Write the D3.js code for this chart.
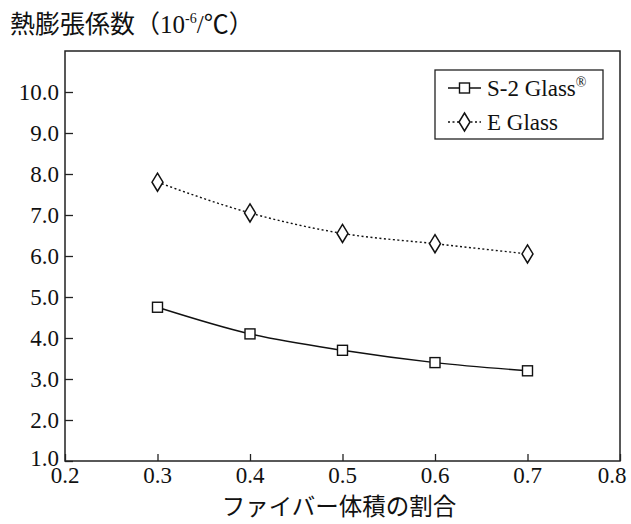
<!DOCTYPE html>
<html>
<head>
<meta charset="utf-8">
<script src="https://cdn.jsdelivr.net/npm/d3@7"></script>
<style>
  html, body { margin: 0; padding: 0; background: #fff; }
  svg { display: block; }
</style>
</head>
<body>
<svg id="chart" width="631" height="524"></svg>
<script>
// Fiber volume fraction (x) and thermal expansion coefficient (y, 10^-6/°C)
const fiberFraction = [0.3, 0.4, 0.5, 0.6, 0.7];
const s2Glass = [4.75, 4.1, 3.7, 3.4, 3.2];
const eGlass = [7.8, 7.05, 6.55, 6.3, 6.05];
const xTicks = [0.2, 0.3, 0.4, 0.5, 0.6, 0.7, 0.8];
const yTicks = [1, 2, 3, 4, 5, 6, 7, 8, 9, 10];

const svg = d3.select("#chart");
const serif = "'Liberation Serif', 'Times New Roman', serif";
const jp = "'Noto Sans CJK JP', sans-serif";
const W = 631;

const plot = { left: 65, right: 620, top: 51, bottom: 461 };
const x = d3.scaleLinear().domain([0.2, 0.8]).range([plot.left, plot.right]);
const y = d3.scaleLinear().domain([1, 11]).range([plot.bottom, plot.top]);

// Frame
svg.append("rect")
  .attr("x", plot.left).attr("y", plot.top)
  .attr("width", plot.right - plot.left).attr("height", plot.bottom - plot.top)
  .attr("fill", "none").attr("stroke", "#222").attr("stroke-width", 1.5);

// Y axis (inward ticks)
const yAxis = d3.axisRight(y).tickValues(yTicks).tickSize(8).tickFormat("");
svg.append("g").attr("transform", `translate(${plot.left},0)`).call(yAxis)
  .call(g => g.select(".domain").remove())
  .call(g => g.selectAll("line").attr("stroke", "#222").attr("stroke-width", 1.3));
svg.append("g").selectAll("text").data(yTicks).join("text")
  .attr("x", plot.left - 6).attr("y", d => y(d) - (d === 1 ? 3 : 0)).attr("dy", "0.35em")
  .attr("text-anchor", "end")
  .attr("font-family", serif).attr("font-size", 23).attr("fill", "#111")
  .text(d => d3.format(".1f")(d));

// X axis (inward ticks)
const xAxis = d3.axisTop(x).tickValues(xTicks).tickSize(7).tickFormat("");
svg.append("g").attr("transform", `translate(0,${plot.bottom})`).call(xAxis)
  .call(g => g.select(".domain").remove())
  .call(g => g.selectAll("line").attr("stroke", "#222").attr("stroke-width", 1.3));
svg.append("g").selectAll("text").data(xTicks).join("text")
  .attr("x", d => Math.min(x(d), W - 19)).attr("y", plot.bottom + 22)
  .attr("text-anchor", "middle")
  .attr("font-family", serif).attr("font-size", 23).attr("fill", "#111")
  .text(d => d3.format(".1f")(d));

// Axis titles
svg.append("text")
  .attr("x", 339).attr("y", 515).attr("text-anchor", "middle")
  .attr("font-family", jp).attr("font-size", 23.5).attr("fill", "#111")
  .text("ファイバー体積の割合");

const title = svg.append("text")
  .attr("x", 10).attr("y", 33)
  .attr("font-family", jp).attr("font-size", 25).attr("fill", "#111");
title.append("tspan").text("熱膨張係数（");
title.append("tspan").attr("font-family", serif).text("10");
title.append("tspan").attr("font-family", serif).attr("font-size", 14).attr("dy", -10).text("-6");
title.append("tspan").attr("font-family", serif).attr("dy", 10).text("/");
title.append("tspan").text("℃）");

// Series lines
const line = d3.line()
  .x((d, i) => x(fiberFraction[i]))
  .y(d => y(d))
  .curve(d3.curveMonotoneX);

svg.append("path").datum(s2Glass)
  .attr("d", line).attr("fill", "none")
  .attr("stroke", "#111").attr("stroke-width", 1.4);

svg.append("path").datum(eGlass)
  .attr("d", line).attr("fill", "none")
  .attr("stroke", "#111").attr("stroke-width", 1.4)
  .attr("stroke-dasharray", "2,2.5");

// Markers
function square(g, cx, cy) {
  g.append("rect").attr("x", cx - 5).attr("y", cy - 5)
    .attr("width", 10).attr("height", 10)
    .attr("fill", "#fff").attr("stroke", "#111").attr("stroke-width", 1.4);
}
function diamond(g, cx, cy) {
  g.append("path")
    .attr("d", `M${cx},${cy - 9}L${cx + 5.5},${cy}L${cx},${cy + 9}L${cx - 5.5},${cy}Z`)
    .attr("fill", "#fff").attr("stroke", "#111").attr("stroke-width", 1.5);
}
const marks = svg.append("g");
s2Glass.forEach((v, i) => square(marks, x(fiberFraction[i]), y(v)));
eGlass.forEach((v, i) => diamond(marks, x(fiberFraction[i]), y(v)));

// Legend
const lg = svg.append("g");
lg.append("rect").attr("x", 435).attr("y", 70).attr("width", 168).attr("height", 69)
  .attr("fill", "#fff").attr("stroke", "#222").attr("stroke-width", 1.3);
lg.append("line").attr("x1", 448).attr("x2", 481).attr("y1", 88).attr("y2", 88)
  .attr("stroke", "#111").attr("stroke-width", 1.4);
square(lg, 464.5, 88);
lg.append("line").attr("x1", 448).attr("x2", 481).attr("y1", 122).attr("y2", 122)
  .attr("stroke", "#111").attr("stroke-width", 1.4).attr("stroke-dasharray", "2,2.5");
diamond(lg, 464.5, 122);
const t1 = lg.append("text").attr("x", 487).attr("y", 96)
  .attr("font-family", serif).attr("font-size", 23).attr("fill", "#111");
t1.append("tspan").text("S-2 Glass");
t1.append("tspan").attr("font-size", 14).attr("dy", -9).text("®");
lg.append("text").attr("x", 487).attr("y", 130)
  .attr("font-family", serif).attr("font-size", 23).attr("fill", "#111")
  .text("E Glass");
</script>
</body>
</html>
